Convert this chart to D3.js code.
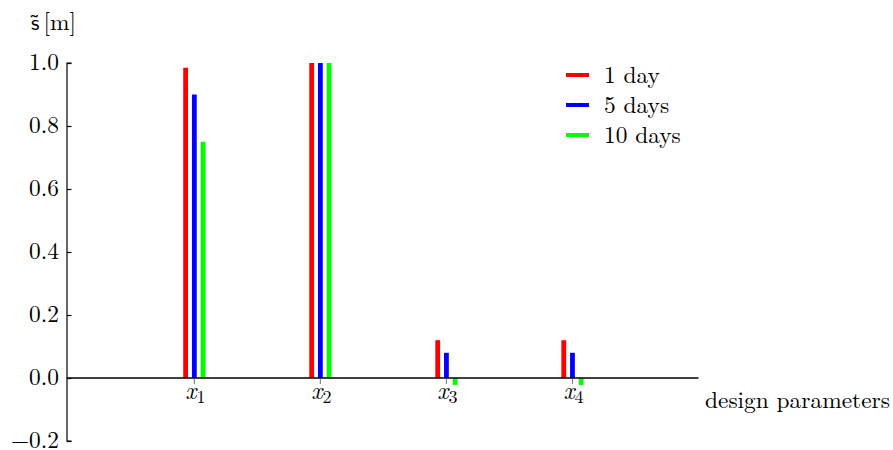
<!DOCTYPE html>
<html>
<head>
<meta charset="utf-8">
<script src="https://cdn.jsdelivr.net/npm/d3@7"></script>
<style>
  html, body { margin: 0; padding: 0; background: #fff; }
  svg { display: block; }
</style>
</head>
<body>
<svg id="chart" width="893" height="450"></svg>
<script>
// Sensitivity of the design parameters for three forecast horizons
const categories = ["x1", "x2", "x3", "x4"];
const seriesNames = ["1 day", "5 days", "10 days"];
const seriesColors = ["#ff0000", "#0000ff", "#00ff00"];
const oneDay  = [0.985, 1.0, 0.12, 0.12];
const fiveDays = [0.90, 1.0, 0.08, 0.08];
const tenDays = [0.75, 1.0, -0.022, -0.022];
const yTicks = [-0.2, 0.0, 0.2, 0.4, 0.6, 0.8, 1.0];

const series = [oneDay, fiveDays, tenDays];

const fontSize = 23.4;
const SERIF = `font-family:'Latin Modern Roman','DejaVu Serif',serif;font-size:${fontSize}px;fill:#000`;
const svg = d3.select("#chart");

// scales
const x = d3.scaleLinear().domain([0, categories.length + 1]).range([68.3, 698.5]);
const y = d3.scaleLinear().domain([-0.2, 1.0]).range([441, 63]);
const axisX = 67;

// y axis: line with inward ticks
const yAxis = d3.axisRight(y)
  .tickValues(yTicks)
  .tickSize(4.5)
  .tickFormat("");
const gy = svg.append("g").attr("transform", `translate(${axisX},0)`).call(yAxis);
gy.select(".domain").attr("d", `M4.5,${y(1.0)}H0V${y(-0.2)}H4.5`).attr("stroke", "#000").attr("stroke-width", 1.2);
gy.selectAll(".tick line").attr("stroke", "#000").attr("stroke-width", 1.2);

// y tick labels
svg.append("g").selectAll("text")
  .data(yTicks)
  .join("text")
  .attr("x", 59)
  .attr("y", d => y(d) + 7)
  .attr("text-anchor", "end")
  .attr("style", SERIF)
  .text(d => (d < 0 ? "\u2212" : "") + Math.abs(d).toFixed(1));

// bars
const barW = 4.8;
const offsets = [-8.7, 0, 8.7];
series.forEach((vals, s) => {
  svg.append("g").selectAll("rect")
    .data(vals)
    .join("rect")
    .attr("x", (d, i) => x(i + 1) + offsets[s] - barW / 2)
    .attr("y", d => Math.min(y(d), y(0)))
    .attr("width", barW)
    .attr("height", d => Math.abs(y(d) - y(0)))
    .attr("fill", seriesColors[s]);
});

// x axis at zero
svg.append("line")
  .attr("x1", axisX).attr("x2", x(categories.length + 1))
  .attr("y1", y(0)).attr("y2", y(0))
  .attr("stroke", "#000").attr("stroke-width", 1.6);

// x ticks (small grey marks below the zero line)
svg.append("g").selectAll("line")
  .data(categories)
  .join("line")
  .attr("x1", (d, i) => x(i + 1)).attr("x2", (d, i) => x(i + 1))
  .attr("y1", y(0) + 1).attr("y2", y(0) + 6)
  .attr("stroke", "#888").attr("stroke-width", 1.2);

// x tick labels: italic x with subscript index
const xl = svg.append("g").selectAll("text")
  .data(categories)
  .join("text")
  .attr("x", (d, i) => x(i + 1) + 1)
  .attr("y", y(0) + 21)
  .attr("text-anchor", "middle")
  .attr("style", SERIF);
xl.append("tspan").attr("style", "font-style:italic;font-size:24px").text("x");
xl.append("tspan").attr("style", "font-size:18px").attr("dy", 4).text(d => d.slice(1));

// x axis title
svg.append("text")
  .attr("x", 705).attr("y", 408)
  .attr("style", SERIF)
  .text("design parameters");

// y axis title
const yt = svg.append("text").attr("x", 31).attr("y", 30).attr("style", SERIF);
yt.append("tspan").attr("style", "font-family:'Latin Modern Sans','DejaVu Sans',sans-serif;font-size:22px").text("s\u0303");
yt.append("tspan").attr("dx", 4).text("[m]");

// legend
const legend = svg.append("g").selectAll("g")
  .data(seriesNames)
  .join("g")
  .attr("transform", (d, i) => `translate(566,${75 + i * 30})`);
legend.append("line")
  .attr("x1", 0).attr("x2", 23)
  .attr("stroke", (d, i) => seriesColors[i])
  .attr("stroke-width", 4);
legend.append("text")
  .attr("x", 38).attr("y", 7.5)
  .attr("style", SERIF)
  .text(d => d);
</script>
</body>
</html>
